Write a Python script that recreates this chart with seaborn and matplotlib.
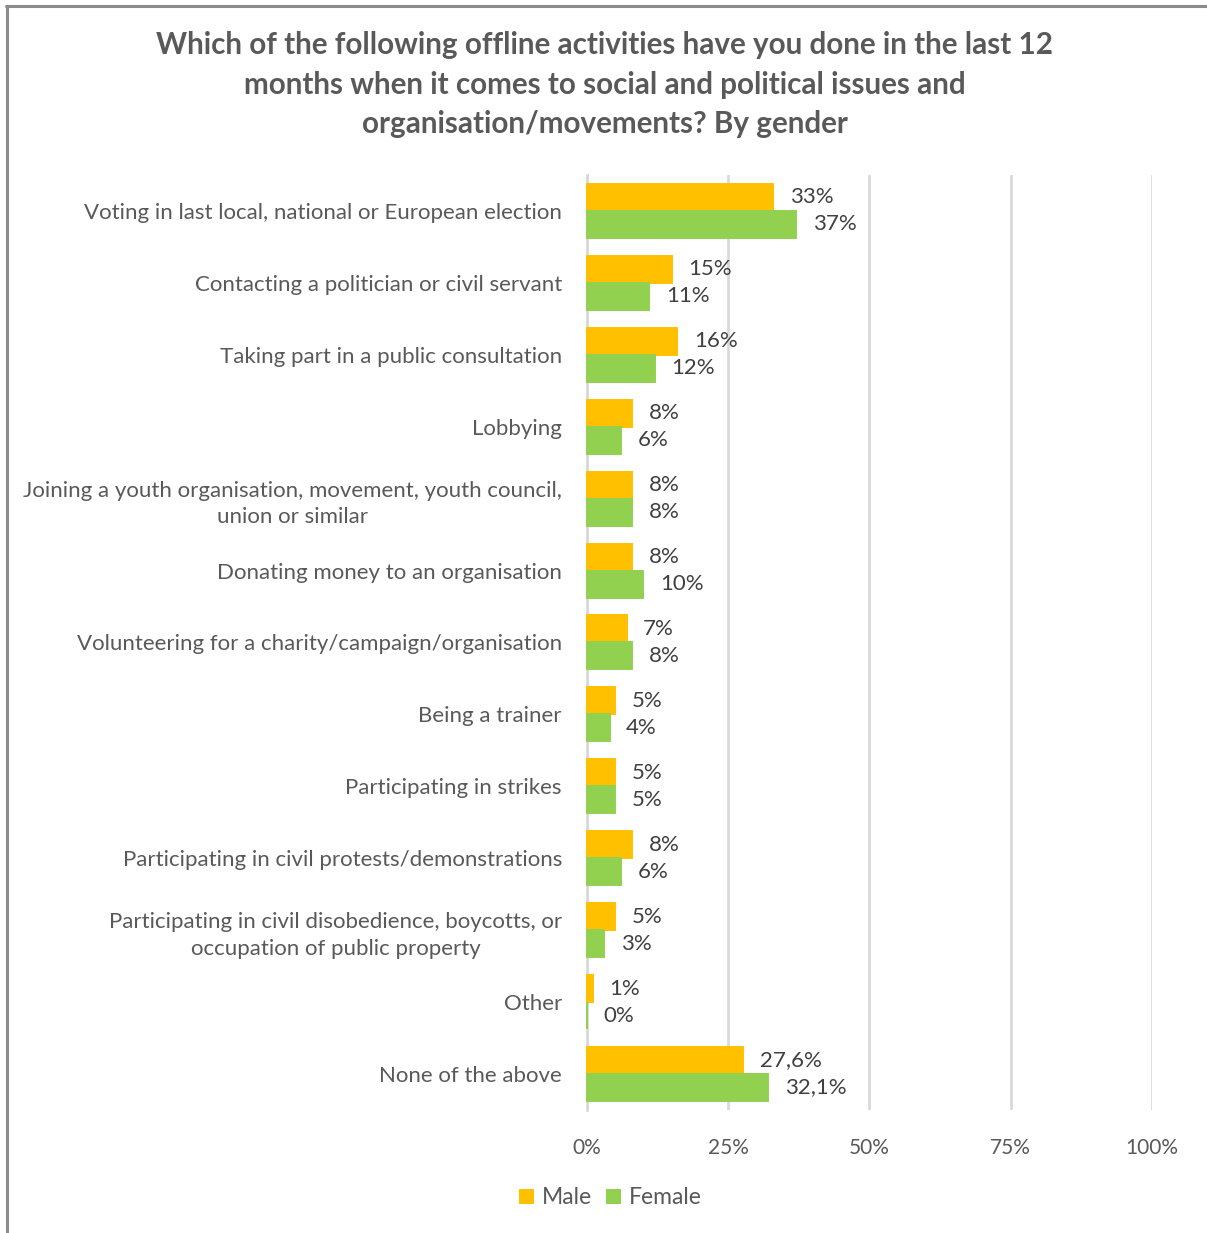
import matplotlib
matplotlib.use("Agg")
import matplotlib.pyplot as plt
from matplotlib.lines import Line2D
from matplotlib.patches import Patch
import seaborn as sns
import pandas as pd

# Survey answers (share of respondents, %)
activities = [
    "Voting in last local, national or European election",
    "Contacting a politician or civil servant",
    "Taking part in a public consultation",
    "Lobbying",
    "Joining a youth organisation, movement, youth council,\nunion or similar",
    "Donating money to an organisation",
    "Volunteering for a charity/campaign/organisation",
    "Being a trainer",
    "Participating in strikes",
    "Participating in civil protests/demonstrations",
    "Participating in civil disobedience, boycotts, or\noccupation of public property",
    "Other",
    "None of the above",
]
male = [33, 15, 16, 8, 8, 8, 7, 5, 5, 8, 5, 1, 27.6]
female = [37, 11, 12, 6, 8, 10, 8, 4, 5, 6, 3, 0, 32.1]
genders = ["Male", "Female"]
x_ticks = [0, 25, 50, 75, 100]

colors = {"Male": "#FFC000", "Female": "#92D050"}
TEXT = "#595959"
FONT = ["Lato", "DejaVu Sans"]

df = pd.DataFrame({
    "activity": activities * 2,
    "gender": ["Male"] * len(activities) + ["Female"] * len(activities),
    "value": male + female,
})

sns.set_theme(style="white")
plt.rcParams["font.family"] = FONT

fig = plt.figure(figsize=(12.07, 12.33), dpi=100)
ax = fig.add_axes([0.4863, 0.0998, 0.4681, 0.7583])

sns.barplot(data=df, y="activity", x="value", hue="gender", hue_order=genders,
            order=activities, palette=colors, orient="h", width=0.75,
            errorbar=None, ax=ax, legend=False, saturation=1,
            edgecolor=None, linewidth=0)

# thin outline so that a zero bar still shows as a hairline
for container, g in zip(ax.containers, genders):
    for bar in container:
        bar.set_edgecolor(colors[g])
        bar.set_linewidth(1.4)
        bar.set_zorder(3)
        bar.set_clip_on(False)

def fmt(v):
    if float(v).is_integer():
        return f"{int(v)}%"
    return f"{v:.1f}%".replace(".", ",")

for container in ax.containers:
    labels = [fmt(b.get_width()) for b in container]
    ax.bar_label(container, labels=labels, padding=12, fontsize=16,
                 color="#404040", family=FONT)

ax.set_xlim(0, 100)
ax.set_xticks(x_ticks)
ax.set_xticklabels([f"{t}%" for t in x_ticks])
ax.set_ylim(len(activities) - 0.5, -0.5)
ax.xaxis.grid(True, color="#D9D9D9", linewidth=2)
ax.set_axisbelow(True)
for s in ["top", "right", "bottom"]:
    ax.spines[s].set_visible(False)
ax.spines["left"].set_color("#D9D9D9")
ax.spines["left"].set_linewidth(2)
ax.spines["left"].set_zorder(1)
ax.tick_params(axis="both", length=0)
ax.tick_params(axis="x", pad=20, labelsize=15, labelcolor=TEXT)
ax.tick_params(axis="y", pad=18, labelsize=16, labelcolor=TEXT)
for lab in ax.get_yticklabels():
    lab.set_multialignment("center")
    lab.set_linespacing(1.4)
ax.set_xlabel("")
ax.set_ylabel("")

fig.text(0.501, 0.9745,
         "Which of the following offline activities have you done in the last 12\n"
         "months when it comes to social and political issues and\n"
         "organisation/movements? By gender",
         ha="center", va="top", fontsize=21.3, fontweight="bold", color=TEXT,
         linespacing=1.5, family=FONT)

handles = [Patch(facecolor=colors[g], edgecolor="none") for g in genders]
fig.legend(handles, genders, loc="center", bbox_to_anchor=(0.506, 0.0285),
           ncol=2, frameon=False, fontsize=16.5, labelcolor=TEXT,
           handlelength=0.65, handleheight=0.65, handletextpad=0.35,
           columnspacing=0.6)

# outer frame lines (top and left edge)
fig.add_artist(Line2D([0.005, 1.0], [0.9955, 0.9955], color="#8C8C8C",
                      linewidth=2.2, transform=fig.transFigure))
fig.add_artist(Line2D([0.0055, 0.0055], [0.0, 0.9955], color="#8C8C8C",
                      linewidth=2.2, transform=fig.transFigure))

fig.savefig("out.png", dpi=100, facecolor="white")
